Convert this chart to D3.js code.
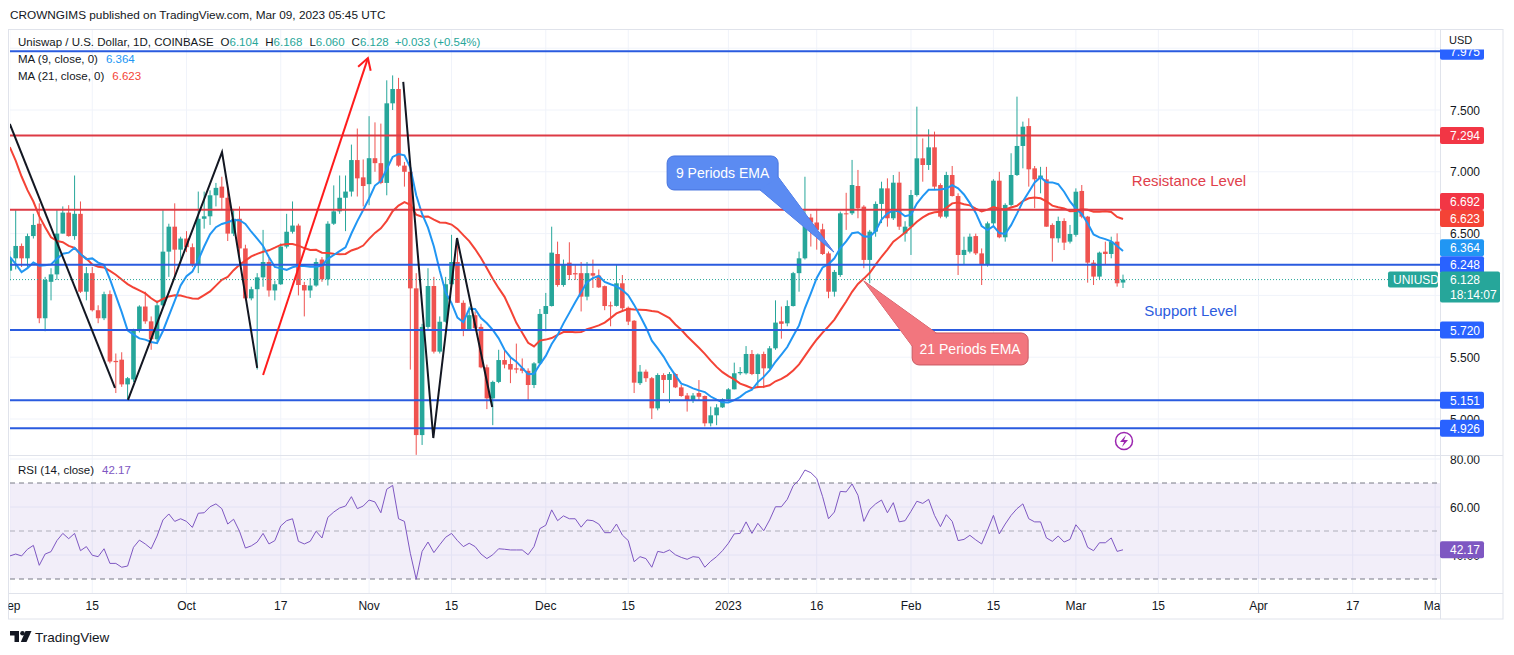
<!DOCTYPE html>
<html>
<head>
<meta charset="utf-8">
<script src="https://cdn.jsdelivr.net/npm/d3@7"></script>
<style>
  body { margin: 0; background: #fff; }
  text { font-family: "Liberation Sans", Arial, sans-serif; }
</style>
</head>
<body>
<svg id="chart"></svg>
<script>
// UNI/USD daily, 1 Sep 2022 .. 9 Mar 2023
const opens = [
  6.20, 6.30, 6.40, 6.30, 6.48, 6.58, 5.815, 6.11, 6.17, 6.50,
  6.67, 6.48, 6.66, 6.03, 6.18, 5.88, 5.815, 6.01, 5.47, 5.48,
  5.28, 5.32, 5.72, 5.91, 5.79, 5.645, 5.92, 6.354, 6.556, 6.37,
  6.46, 6.39, 6.25, 6.62, 6.64, 6.81, 6.88, 6.79, 6.50, 6.62,
  6.38, 5.976, 6.05, 6.146, 6.27, 6.04, 6.09, 6.395, 6.515, 6.565,
  6.084, 6.04, 6.08, 6.29, 6.13, 6.58, 6.68, 6.79, 6.84, 7.095,
  6.955, 6.90, 7.11, 7.07, 6.91, 7.554, 7.67, 7.05, 7.00, 6.057,
  4.87, 5.745, 6.076, 5.545, 5.787, 6.09, 6.27, 5.94, 5.725, 5.84,
  5.745, 5.418, 5.167, 5.30, 5.477, 5.445, 5.41, 5.41, 5.39, 5.275,
  5.45, 5.85, 5.914, 6.335, 6.084, 6.265, 6.18, 6.18, 5.99, 6.18,
  6.16, 6.075, 5.92, 5.915, 6.098, 5.90, 5.795, 5.29, 5.383, 5.33,
  5.086, 5.356, 5.316, 5.364, 5.256, 5.19, 5.15, 5.21, 5.186, 4.965,
  5.03, 5.094, 5.16, 5.24, 5.37, 5.37, 5.526, 5.364, 5.526, 5.41,
  5.572, 5.79, 5.774, 5.914, 6.18, 6.30, 6.63, 6.59, 6.535, 6.34,
  6.03, 6.165, 6.664, 6.664, 6.885, 6.718, 6.287, 6.516, 6.74, 6.866,
  6.624, 6.912, 6.50, 6.556, 6.812, 7.109, 7.055, 7.198, 6.893, 6.637,
  6.974, 6.804, 6.327, 6.354, 6.48, 6.34, 6.246, 6.583, 6.928, 6.47,
  6.732, 6.974, 7.209, 7.37, 7.028, 6.947, 6.939, 6.57, 6.462, 6.602,
  6.435, 6.49, 6.845, 6.637, 6.265, 6.152, 6.354, 6.335, 6.435, 6.104
];
const highs = [
  6.36, 6.69, 6.42, 6.50, 6.66, 6.745, 6.15, 6.22, 6.69, 6.72,
  6.73, 6.97, 6.76, 6.23, 6.23, 5.92, 6.03, 6.04, 5.53, 5.54,
  5.34, 5.73, 5.92, 6.03, 5.83, 5.96, 6.69, 6.58, 6.745, 6.475,
  6.52, 6.42, 6.84, 6.84, 6.85, 6.91, 6.96, 6.88, 6.70, 6.72,
  6.41, 6.07, 6.18, 6.53, 6.30, 6.12, 6.42, 6.66, 6.76, 6.58,
  6.11, 6.14, 6.30, 6.31, 6.60, 6.89, 6.97, 6.97, 7.22, 7.35,
  7.10, 7.45, 7.40, 7.39, 7.74, 7.78, 7.76, 7.08, 7.02, 6.18,
  5.77, 6.22, 6.15, 5.83, 6.15, 6.49, 6.45, 5.96, 5.91, 5.87,
  5.77, 5.44, 5.31, 5.56, 5.56, 5.50, 5.61, 5.49, 5.41, 5.46,
  5.89, 6.02, 6.556, 6.435, 6.29, 6.43, 6.254, 6.27, 6.27, 6.29,
  6.21, 6.08, 5.95, 6.25, 6.165, 5.91, 5.80, 5.437, 5.40, 5.34,
  5.37, 5.37, 5.38, 5.37, 5.275, 5.21, 5.21, 5.315, 5.19, 5.10,
  5.12, 5.167, 5.25, 5.456, 5.42, 5.59, 5.558, 5.53, 5.545, 5.59,
  5.96, 5.91, 5.96, 6.19, 6.354, 6.96, 6.66, 6.70, 6.58, 6.355,
  6.206, 6.678, 6.83, 7.096, 7.015, 6.73, 6.53, 6.76, 6.92, 6.947,
  6.974, 7.00, 6.60, 6.853, 7.527, 7.27, 7.344, 7.325, 6.907, 7.00,
  7.047, 6.826, 6.475, 6.50, 6.50, 6.38, 6.597, 6.94, 7.00, 6.745,
  7.15, 7.608, 7.406, 7.433, 7.047, 7.04, 7.04, 6.583, 6.637, 6.624,
  6.57, 6.866, 6.893, 6.643, 6.286, 6.354, 6.435, 6.475, 6.502, 6.168
];
const lows = [
  6.12, 6.21, 6.23, 6.23, 6.46, 5.775, 5.71, 5.96, 6.125, 6.50,
  6.475, 6.45, 6.02, 5.96, 5.87, 5.775, 5.80, 5.45, 5.21, 5.26,
  5.155, 5.30, 5.70, 5.77, 5.56, 5.625, 5.91, 6.15, 6.15, 6.26,
  6.35, 6.23, 6.18, 6.54, 6.57, 6.72, 6.69, 6.44, 6.48, 6.29,
  5.96, 5.96, 5.40, 6.07, 5.99, 5.96, 6.085, 6.38, 6.50, 6.00,
  5.83, 5.98, 6.07, 6.11, 6.08, 6.57, 6.66, 6.52, 6.80, 6.80,
  6.72, 6.73, 7.00, 6.90, 6.81, 7.50, 7.04, 6.88, 5.40, 4.71,
  4.79, 5.73, 5.53, 5.53, 5.78, 6.07, 5.94, 5.67, 5.715, 5.72,
  5.41, 5.08, 4.95, 5.29, 5.41, 5.29, 5.37, 5.37, 5.15, 5.25,
  5.44, 5.71, 5.91, 6.07, 6.07, 6.125, 6.125, 5.87, 5.96, 6.06,
  6.06, 5.88, 5.75, 5.91, 5.88, 5.76, 5.21, 5.275, 5.30, 5.00,
  5.07, 5.21, 5.13, 5.25, 5.18, 5.06, 5.13, 5.15, 4.94, 4.94,
  4.95, 5.09, 5.14, 5.24, 5.355, 5.36, 5.355, 5.25, 5.25, 5.40,
  5.56, 5.65, 5.75, 5.91, 6.03, 6.29, 6.395, 6.37, 6.327, 5.977,
  5.99, 6.15, 6.53, 6.65, 6.624, 6.22, 6.098, 6.475, 6.585, 6.556,
  6.61, 6.53, 6.435, 6.327, 6.80, 6.92, 7.015, 6.853, 6.624, 6.624,
  6.80, 6.165, 6.246, 6.34, 6.327, 6.084, 6.233, 6.57, 6.462, 6.435,
  6.718, 6.966, 7.028, 6.88, 6.705, 6.826, 6.556, 6.273, 6.427, 6.367,
  6.42, 6.475, 6.624, 6.103, 6.084, 6.13, 6.246, 6.30, 6.071, 6.06
];
const closes = [
  6.30, 6.40, 6.30, 6.48, 6.57, 5.815, 6.125, 6.17, 6.50, 6.67,
  6.48, 6.66, 6.03, 6.18, 5.88, 5.815, 6.01, 5.465, 5.46, 5.28,
  5.33, 5.72, 5.91, 5.79, 5.645, 5.92, 6.354, 6.556, 6.37, 6.46,
  6.39, 6.25, 6.62, 6.64, 6.81, 6.87, 6.79, 6.50, 6.62, 6.38,
  5.976, 6.05, 6.146, 6.27, 6.04, 6.09, 6.395, 6.515, 6.565, 6.084,
  6.04, 6.08, 6.27, 6.13, 6.58, 6.68, 6.79, 6.84, 7.095, 6.947,
  6.885, 7.11, 7.07, 6.91, 7.554, 7.67, 7.05, 7.00, 6.057, 4.87,
  5.745, 6.076, 5.545, 5.787, 6.09, 6.27, 5.94, 5.725, 5.84, 5.735,
  5.418, 5.167, 5.30, 5.477, 5.44, 5.40, 5.40, 5.39, 5.275, 5.45,
  5.85, 5.914, 6.346, 6.084, 6.254, 6.165, 6.17, 5.99, 6.18, 6.16,
  6.065, 5.914, 5.915, 6.098, 5.896, 5.788, 5.294, 5.383, 5.33, 5.086,
  5.356, 5.316, 5.364, 5.256, 5.186, 5.15, 5.19, 5.18, 4.965, 5.03,
  5.094, 5.16, 5.24, 5.37, 5.38, 5.526, 5.364, 5.523, 5.41, 5.572,
  5.78, 5.77, 5.914, 6.18, 6.30, 6.632, 6.59, 6.53, 6.335, 6.03,
  6.19, 6.664, 6.66, 6.893, 6.705, 6.287, 6.516, 6.74, 6.866, 6.624,
  6.912, 6.556, 6.556, 6.812, 7.109, 7.055, 7.198, 6.88, 6.637, 6.974,
  6.804, 6.327, 6.368, 6.475, 6.34, 6.246, 6.583, 6.928, 6.47, 6.732,
  6.974, 7.209, 7.365, 7.02, 6.939, 6.97, 6.556, 6.462, 6.602, 6.427,
  6.497, 6.839, 6.637, 6.265, 6.152, 6.346, 6.335, 6.435, 6.098, 6.128
];
// closes of 12..31 Aug 2022, only used to start the moving averages
const warmupCloses = [8.7, 9.0, 8.8, 8.5, 8.3, 8.0, 7.9, 7.1, 6.9, 7.1, 7.0, 7.1,
  6.9, 6.9, 6.2, 6.15, 6.05, 6.1, 6.1, 6.1];
const rsiValues = [
  39.6, 40.4, 39.6, 42.4, 44.0, 35.7, 40.4, 41.4, 46.0, 49.0,
  46.8, 49.0, 41.8, 43.5, 39.9, 39.3, 42.6, 36.5, 36.5, 34.9,
  35.4, 43.2, 46.2, 44.6, 42.6, 47.9, 54.6, 57.1, 54.0, 55.1,
  54.0, 51.5, 57.4, 57.6, 60.1, 61.3, 59.3, 52.9, 54.9, 49.9,
  42.9, 43.8, 45.4, 49.0, 44.6, 46.0, 52.1, 54.3, 55.1, 45.7,
  44.6, 45.7, 49.9, 47.1, 55.7, 57.9, 59.6, 60.4, 64.3, 59.3,
  60.4, 62.9, 62.1, 57.6, 67.4, 69.0, 55.1, 54.0, 40.7, 29.9,
  41.5, 45.4, 41.0, 44.3, 47.4, 49.0, 46.0, 43.5, 44.9, 43.5,
  40.4, 38.5, 40.1, 42.6, 42.4, 42.1, 42.1, 42.1, 40.1, 43.5,
  51.0, 52.4, 58.8, 54.3, 56.3, 55.1, 55.1, 51.6, 54.6, 54.3,
  52.9, 49.3, 49.3, 52.9, 48.3, 46.0, 37.2, 39.3, 38.5, 34.9,
  41.5, 41.0, 42.1, 40.1, 39.0, 38.2, 39.3, 39.0, 34.9, 37.4,
  39.3, 41.8, 44.9, 48.8, 49.0, 53.8, 49.0, 53.2, 50.1, 54.6,
  60.1, 60.1, 63.2, 68.8, 71.3, 75.4, 74.3, 71.9, 64.3, 55.1,
  57.9, 66.5, 66.3, 69.6, 64.9, 54.0, 59.0, 61.3, 62.9, 57.6,
  61.8, 53.8, 54.3, 58.2, 62.4, 61.5, 63.2, 56.5, 51.8, 56.8,
  54.0, 46.0, 46.5, 48.2, 46.3, 44.6, 50.4, 56.5, 48.8, 52.9,
  56.5, 59.3, 61.3, 55.1, 53.8, 53.8, 47.1, 45.7, 47.9, 45.4,
  46.5, 52.6, 49.6, 43.2, 41.8, 45.1, 45.1, 47.1, 41.5, 42.17
];

const levelValues = [7.975, 7.294, 6.692, 6.248, 5.720, 5.151, 4.926];
const levelKinds = ["blue", "red", "red", "blue", "blue", "blue", "blue"];
const maLegend = [6.364, 6.623];
const lastBar = { o: 6.104, h: 6.168, l: 6.060, c: 6.128, chg: 0.033, pct: 0.54 };

const tickDates = ["2022-09-01", "2022-09-15", "2022-10-01", "2022-10-17", "2022-11-01", "2022-11-15",
  "2022-12-01", "2022-12-15", "2023-01-01", "2023-01-16", "2023-02-01", "2023-02-15",
  "2023-03-01", "2023-03-15", "2023-04-01", "2023-04-17", "2023-05-01"];
const tickLabels = ["Sep", "15", "Oct", "17", "Nov", "15", "Dec", "15", "2023", "16", "Feb", "15",
  "Mar", "15", "Apr", "17", "May"];
const priceTicks = [5.0, 5.5, 6.5, 7.0, 7.5];
const priceGrid = [4.5, 5.0, 5.5, 6.0, 6.5, 7.0, 7.5, 8.0];
const rsiTicks = [80, 60, 40];

// hand drawn lines: [day index, price]
const blackLines = [
  [[0, 7.387], [17.86, 5.251]],
  [[20.07, 5.154], [36.03, 7.160], [42.0, 5.413]],
  [[66.8, 7.727], [71.9, 4.846], [75.93, 6.464], [81.9, 5.097]]
];
const redArrow = [[43.0, 5.356], [60.8, 7.920]];

const width = 1514, height = 655;
const paneL = 10, paneR = 1440, mainT = 30, mainB = 455, rsiB = 593, frameB = 619, frameR = 1503;
const upColor = "#26a69a", downColor = "#ef5350";
const blue = "#2962ff", red = "#f23645";
const ma9Color = "#2196f3", ma21Color = "#f44336", rsiColor = "#7e57c2";
const textColor = "#131722";

const parseDay = d3.utcParse("%Y-%m-%d");
const firstDay = parseDay("2022-09-01");
const dayAt = i => d3.utcDay.offset(firstDay, i);
const dates = closes.map((c, i) => dayAt(i));

const x = d3.scaleUtc().domain([dates[0], dates[dates.length - 1]]).range([9.8, 9.8 + 189 * 5.89]);
const xd = i => x(dayAt(0)) + (x(dayAt(1)) - x(dayAt(0))) * i;
const y = d3.scaleLinear().domain([5.0, 7.5]).range([419, 110]);
const yRsi = d3.scaleLinear().domain([30, 70]).range([579, 483]);
const fmt3 = d3.format(".3f"), fmt2 = d3.format(".2f");

const svg = d3.select("#chart").attr("width", width).attr("height", height)
  .style("background", "#fff");
const defs = svg.append("defs");
defs.append("clipPath").attr("id", "mainClip").append("rect")
  .attr("x", paneL).attr("y", mainT).attr("width", paneR - paneL).attr("height", mainB - mainT);
defs.append("clipPath").attr("id", "rsiClip").append("rect")
  .attr("x", paneL).attr("y", mainB).attr("width", paneR - paneL).attr("height", rsiB - mainB);
defs.append("clipPath").attr("id", "timeClip").append("rect")
  .attr("x", 8.5).attr("y", rsiB).attr("width", paneR - 8.5).attr("height", frameB - rsiB);
defs.append("clipPath").attr("id", "axisClip").append("rect")
  .attr("x", paneR).attr("y", 49.5).attr("width", 70).attr("height", mainB - 49.5);
defs.append("clipPath").attr("id", "rsiAxisClip").append("rect")
  .attr("x", paneR).attr("y", mainB + 0.5).attr("width", 70).attr("height", rsiB - mainB);

// header
svg.append("text").attr("x", 10).attr("y", 19).attr("font-size", 11.8).attr("fill", textColor)
  .text("CROWNGIMS published on TradingView.com, Mar 09, 2023 05:45 UTC");

// frame
svg.append("rect").attr("x", 8.5).attr("y", 29.5).attr("width", frameR - 8.5).attr("height", frameB - 29.5)
  .attr("fill", "none").attr("stroke", "#e0e3eb");

// grid
const grid = svg.append("g");
grid.selectAll("line.vg").data(tickDates).join("line")
  .attr("x1", d => x(parseDay(d))).attr("x2", d => x(parseDay(d)))
  .attr("y1", mainT).attr("y2", rsiB).attr("stroke", "#f0f3fa").attr("clip-path", "url(#mainClip)");
grid.selectAll("line.vg2").data(tickDates).join("line")
  .attr("x1", d => x(parseDay(d))).attr("x2", d => x(parseDay(d)))
  .attr("y1", mainB).attr("y2", rsiB).attr("stroke", "#f0f3fa").attr("clip-path", "url(#rsiClip)");
grid.selectAll("line.hg").data(priceGrid).join("line")
  .attr("x1", paneL).attr("x2", paneR).attr("y1", d => y(d)).attr("y2", d => y(d))
  .attr("stroke", "#f0f3fa").attr("clip-path", "url(#mainClip)");
grid.selectAll("line.rg").data(rsiTicks).join("line")
  .attr("x1", paneL).attr("x2", paneR).attr("y1", d => yRsi(d)).attr("y2", d => yRsi(d))
  .attr("stroke", "#f0f3fa").attr("clip-path", "url(#rsiClip)");

// panes separators
svg.append("line").attr("x1", 8.5).attr("x2", frameR).attr("y1", mainB + 0.5).attr("y2", mainB + 0.5).attr("stroke", "#e0e3eb");
svg.append("line").attr("x1", 8.5).attr("x2", frameR).attr("y1", rsiB + 0.5).attr("y2", rsiB + 0.5).attr("stroke", "#e0e3eb");
svg.append("line").attr("x1", paneR + 0.5).attr("x2", paneR + 0.5).attr("y1", 29.5).attr("y2", frameB).attr("stroke", "#e0e3eb");

// candles
const main = svg.append("g").attr("clip-path", "url(#mainClip)");
const candle = main.selectAll("g.candle").data(dates).join("g");
candle.append("line")
  .attr("x1", (d, i) => x(d)).attr("x2", (d, i) => x(d))
  .attr("y1", (d, i) => y(highs[i])).attr("y2", (d, i) => y(lows[i]))
  .attr("stroke", (d, i) => closes[i] >= opens[i] ? upColor : downColor).attr("stroke-width", 1);
candle.append("rect")
  .attr("x", d => x(d) - 2.3).attr("width", 4.6)
  .attr("y", (d, i) => y(Math.max(opens[i], closes[i])))
  .attr("height", (d, i) => Math.max(1, Math.abs(y(opens[i]) - y(closes[i]))))
  .attr("fill", (d, i) => closes[i] >= opens[i] ? upColor : downColor);

// moving averages
const allCloses = warmupCloses.concat(closes);
const sma = n => closes.map((c, i) => d3.mean(allCloses.slice(i + warmupCloses.length - n + 1, i + warmupCloses.length + 1)));
const line = d3.line().x((d, i) => x(dates[i])).y(d => y(d));
main.append("path").datum(sma(21)).attr("d", line).attr("fill", "none").attr("stroke", ma21Color).attr("stroke-width", 2);
main.append("path").datum(sma(9)).attr("d", line).attr("fill", "none").attr("stroke", ma9Color).attr("stroke-width", 2);

// last price dotted line
main.append("line").attr("x1", paneL).attr("x2", 1388).attr("y1", y(lastBar.c)).attr("y2", y(lastBar.c))
  .attr("stroke", upColor).attr("stroke-dasharray", "1,2");

// horizontal levels
main.selectAll("line.level").data(levelValues).join("line")
  .attr("x1", paneL).attr("x2", paneR).attr("y1", d => y(d)).attr("y2", d => y(d))
  .attr("stroke", (d, i) => levelKinds[i] === "blue" ? "#2a5bdf" : "#dd3a45").attr("stroke-width", 2);

// trend lines
const pt = d3.line().x(d => xd(d[0])).y(d => y(d[1]));
main.selectAll("path.zig").data(blackLines).join("path").attr("d", pt)
  .attr("fill", "none").attr("stroke", "#131722").attr("stroke-width", 2);
main.append("path").datum(redArrow).attr("d", pt).attr("fill", "none").attr("stroke", "#ff1c1c").attr("stroke-width", 2);
{
  const [a, b] = redArrow.map(p => [xd(p[0]), y(p[1])]);
  const ang = Math.atan2(b[1] - a[1], b[0] - a[0]);
  const head = [ang + Math.PI * 0.83, ang - Math.PI * 0.83].map(t => [b[0] + 13 * Math.cos(t), b[1] + 13 * Math.sin(t)]);
  main.append("path").attr("d", `M${head[0]}L${b}L${head[1]}`).attr("fill", "none")
    .attr("stroke", "#ff1c1c").attr("stroke-width", 2);
}

// callouts
const callouts = [
  { text: "9 Periods EMA", day: 111.6, price: 7.128, tipDay: 139.9, tipPrice: 6.351, w: 111, h: 34,
    fill: "#5b8bf2", stroke: "#4673de", corner: "br" },
  { text: "21 Periods EMA", day: 153.2, price: 5.696, tipDay: 145.0, tipPrice: 6.117, w: 116, h: 32,
    fill: "#f2767e", stroke: "#c95a62", corner: "tl" }
];
callouts.forEach(c => {
  const bx = xd(c.day), by = y(c.price), tx = xd(c.tipDay), ty = y(c.tipPrice);
  const base = c.corner === "br"
    ? [[bx + c.w - 18, by + c.h], [bx + c.w, by + c.h - 13]]
    : [[bx, by + 13], [bx + 24, by]];
  const wedge = `M${base[0]}L${tx},${ty}L${base[1]}Z`;
  const g = svg.append("g");
  g.append("path").attr("d", wedge).attr("fill", c.fill).attr("stroke", c.stroke).attr("stroke-width", 1);
  g.append("rect").attr("x", bx).attr("y", by).attr("width", c.w).attr("height", c.h).attr("rx", 7)
    .attr("fill", c.fill).attr("stroke", c.stroke).attr("stroke-width", 1);
  g.append("path").attr("d", wedge).attr("fill", c.fill);
  g.append("text").attr("x", bx + c.w / 2).attr("y", by + c.h / 2 + 5).attr("text-anchor", "middle")
    .attr("font-size", 14).attr("fill", "#fff").text(c.text);
});

// level names
svg.append("text").attr("x", xd(190.5)).attr("y", y(6.926) + 5).attr("font-size", 15).attr("fill", "#e0404b").text("Resistance Level");
svg.append("text").attr("x", xd(192.6)).attr("y", y(5.874) + 5).attr("font-size", 15).attr("fill", "#2c5bde").text("Support Level");

// event icon
{
  const cx = x(dates[dates.length - 1]) + 1, cy = mainB - 14;
  svg.append("circle").attr("cx", cx).attr("cy", cy).attr("r", 8.5).attr("fill", "#fff")
    .attr("stroke", "#9c27b0").attr("stroke-width", 1.5);
  svg.append("path").attr("d", `M${cx + 2},${cy - 6}L${cx - 4},${cy + 1}L${cx},${cy + 1}L${cx - 2},${cy + 6}L${cx + 4},${cy - 1}L${cx},${cy - 1}Z`)
    .attr("fill", "#9c27b0");
}

// legend
const legend = svg.append("g").attr("font-size", 11.5).attr("fill", textColor);
const l1 = legend.append("text").attr("x", 18).attr("y", 46);
l1.append("tspan").text("Uniswap / U.S. Dollar, 1D, COINBASE");
[["O", lastBar.o], ["H", lastBar.h], ["L", lastBar.l], ["C", lastBar.c]].forEach(([k, v]) => {
  l1.append("tspan").attr("dx", 7).text(k);
  l1.append("tspan").attr("fill", upColor).text(fmt3(v));
});
l1.append("tspan").attr("dx", 6).attr("fill", upColor).text(`+${fmt3(lastBar.chg)} (+${fmt2(lastBar.pct)}%)`);
const l2 = legend.append("text").attr("x", 18).attr("y", 63);
l2.append("tspan").text("MA (9, close, 0)");
l2.append("tspan").attr("dx", 8).attr("fill", ma9Color).text(fmt3(maLegend[0]));
const l3 = legend.append("text").attr("x", 18).attr("y", 80);
l3.append("tspan").text("MA (21, close, 0)");
l3.append("tspan").attr("dx", 8).attr("fill", ma21Color).text(fmt3(maLegend[1]));

// RSI pane
const rsiG = svg.append("g").attr("clip-path", "url(#rsiClip)");
rsiG.append("rect").attr("x", paneL).attr("width", paneR - paneL)
  .attr("y", yRsi(70)).attr("height", yRsi(30) - yRsi(70)).attr("fill", "rgba(126,87,194,0.1)");
rsiG.selectAll("line.band").data([70, 50, 30]).join("line")
  .attr("x1", paneL).attr("x2", paneR).attr("y1", d => yRsi(d)).attr("y2", d => yRsi(d))
  .attr("stroke", d => d === 50 ? "rgba(120,123,134,0.55)" : "#787b86").attr("stroke-dasharray", "5,4");
rsiG.append("path").datum(rsiValues)
  .attr("d", d3.line().x((d, i) => x(dates[i])).y(d => yRsi(d)))
  .attr("fill", "none").attr("stroke", rsiColor).attr("stroke-width", 1);
const rl = legend.append("text").attr("x", 18).attr("y", 474);
rl.append("tspan").text("RSI (14, close)");
rl.append("tspan").attr("dx", 8).attr("fill", rsiColor).text(fmt2(rsiValues[rsiValues.length - 1]));

// time axis
svg.append("g").attr("clip-path", "url(#timeClip)").selectAll("text").data(tickDates).join("text")
  .attr("x", d => x(parseDay(d))).attr("y", 610).attr("text-anchor", "middle")
  .attr("font-size", 12).attr("fill", textColor).text((d, i) => tickLabels[i]);

// price axis
svg.append("text").attr("x", 1449).attr("y", 44).attr("font-size", 11).attr("fill", textColor).text("USD");
const axisG = svg.append("g").attr("clip-path", "url(#axisClip)");
axisG.selectAll("text.pt").data(priceTicks).join("text")
  .attr("x", 1450).attr("y", d => y(d) + 4.5).attr("font-size", 12).attr("fill", textColor).text(fmt3);

const tags = levelValues.map((v, i) => ({ v, color: levelKinds[i] === "blue" ? blue : red }))
  .concat([{ v: maLegend[0], color: ma9Color }, { v: maLegend[1], color: ma21Color }])
  .map(t => ({ ...t, y: y(t.v) }))
  .sort((a, b) => a.y - b.y);
for (let i = tags.length - 2; i >= 0; i--) {
  if (tags[i].y > tags[i + 1].y - 17) tags[i].y = tags[i + 1].y - 17;
}
const tagG = axisG.selectAll("g.tag").data(tags).join("g");
tagG.append("rect").attr("x", paneR).attr("y", d => d.y - 8.5).attr("width", 44).attr("height", 17)
  .attr("rx", 2).attr("fill", d => d.color);
tagG.append("text").attr("x", 1450).attr("y", d => d.y + 4.5).attr("font-size", 12).attr("fill", "#fff")
  .text(d => fmt3(d.v));

// last price tag
{
  const ly = y(lastBar.c);
  svg.append("rect").attr("x", 1388).attr("y", ly - 8).attr("width", 50).attr("height", 16).attr("rx", 2).attr("fill", upColor);
  svg.append("text").attr("x", 1393).attr("y", ly + 4.5).attr("font-size", 12).attr("fill", "#fff").text("UNIUSD");
  svg.append("rect").attr("x", paneR).attr("y", ly - 8).attr("width", 60).attr("height", 31).attr("rx", 2).attr("fill", upColor);
  svg.append("text").attr("x", 1450).attr("y", ly + 4.5).attr("font-size", 12).attr("fill", "#fff").text(fmt3(lastBar.c));
  svg.append("text").attr("x", 1450).attr("y", ly + 19).attr("font-size", 12).attr("fill", "#fff").text("18:14:07");
}

// RSI axis
const rAxis = svg.append("g").attr("clip-path", "url(#rsiAxisClip)");
rAxis.selectAll("text").data(rsiTicks).join("text")
  .attr("x", 1450).attr("y", d => yRsi(d) + 4.5).attr("font-size", 12).attr("fill", textColor).text(fmt2);
{
  const rv = rsiValues[rsiValues.length - 1];
  rAxis.append("rect").attr("x", paneR).attr("y", yRsi(rv) - 8.5).attr("width", 44).attr("height", 17)
    .attr("rx", 2).attr("fill", rsiColor);
  rAxis.append("text").attr("x", 1450).attr("y", yRsi(rv) + 4.5).attr("font-size", 12).attr("fill", "#fff").text(fmt2(rv));
}

// footer logo
const logo = svg.append("g").attr("fill", textColor);
logo.append("path").attr("d", "M10,631H19V642H14.5V635.5H10Z");
logo.append("circle").attr("cx", 22.5).attr("cy", 633.3).attr("r", 2.3);
logo.append("path").attr("d", "M25.5,631H31.5L26.5,642H20.8Z");
svg.append("text").attr("x", 35).attr("y", 642).attr("font-size", 13.5).attr("fill", textColor).text("TradingView");
</script>
</body>
</html>
